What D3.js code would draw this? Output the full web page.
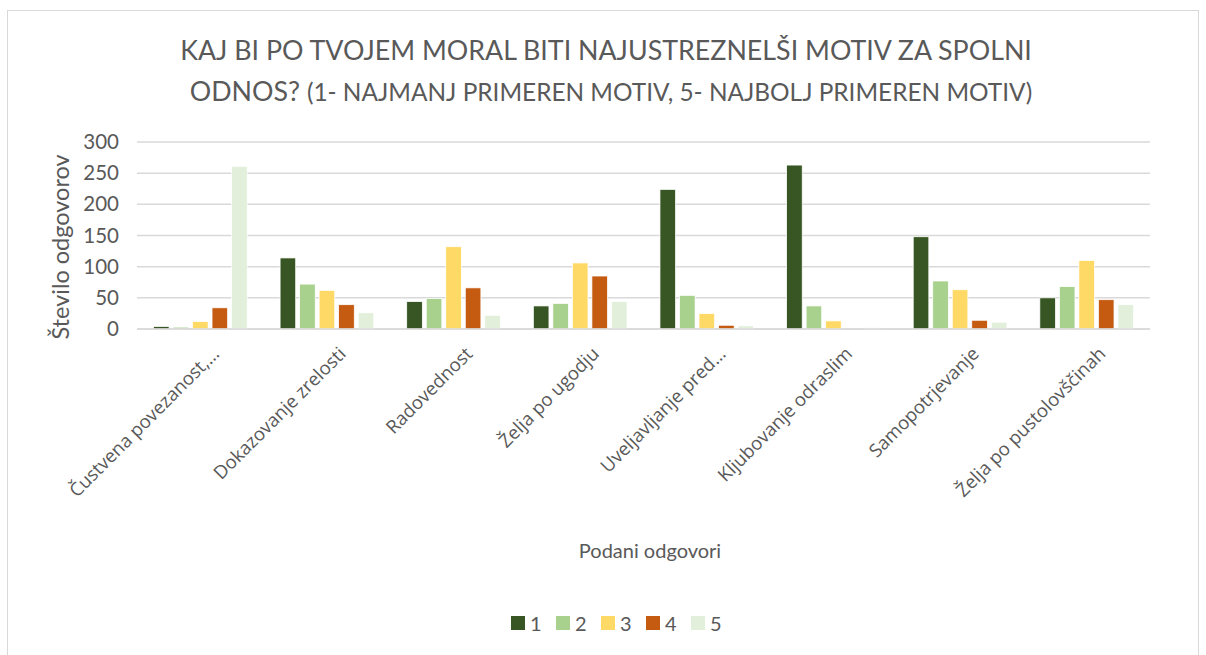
<!DOCTYPE html>
<html>
<head>
<meta charset="utf-8">
<script src="https://cdn.jsdelivr.net/npm/d3@7"></script>
<style>
  body { margin: 0; background: #fff; }
  svg text { fill: #595959; }
</style>
</head>
<body>
<div id="chart"></div>
<script>
// categories and series
const categories = [
  'Čustvena povezanost,…',
  'Dokazovanje zrelosti',
  'Radovednost',
  'Želja po ugodju',
  'Uveljavljanje pred…',
  'Kljubovanje odraslim',
  'Samopotrjevanje',
  'Želja po pustolovščinah'
];
const seriesNames = ['1', '2', '3', '4', '5'];
const values1 = [4, 114, 44, 37, 224, 263, 148, 50];
const values2 = [3, 72, 49, 41, 54, 37, 77, 68];
const values3 = [12, 62, 132, 106, 25, 13, 63, 110];
const values4 = [34, 39, 66, 85, 6, 0, 14, 47];
const values5 = [261, 26, 22, 44, 5, 2, 11, 39];
const yTicks = [0, 50, 100, 150, 200, 250, 300];
const colors = ['#375623', '#a9d18e', '#ffd966', '#c55a11', '#e2efda'];

const allSeries = [values1, values2, values3, values4, values5];

const width = 1206, height = 655;
const margin = { top: 142, right: 56, bottom: 326, left: 137 };

const svg = d3.select('#chart')
  .append('svg')
  .attr('width', width)
  .attr('height', height);

// chart frame
svg.append('rect')
  .attr('x', 7.5).attr('y', 10.5)
  .attr('width', 1191).attr('height', 660)
  .attr('fill', 'none')
  .attr('stroke', '#d9d9d9');

// scales
const x0 = d3.scaleBand()
  .domain(categories)
  .range([margin.left, width - margin.right])
  .paddingInner(0.26)
  .paddingOuter(0.13);

const x1 = d3.scaleBand()
  .domain(seriesNames)
  .range([0, x0.bandwidth()])
  .paddingInner(0.2);

const y = d3.scaleLinear()
  .domain([0, 300])
  .range([height - margin.bottom, margin.top]);

// gridlines
svg.append('g')
  .attr('class', 'grid')
  .selectAll('line')
  .data(yTicks)
  .enter()
  .append('line')
  .attr('x1', margin.left)
  .attr('x2', width - margin.right)
  .attr('y1', (d) => y(d))
  .attr('y2', (d) => y(d))
  .attr('stroke', '#d9d9d9')
  .attr('stroke-width', 1.5);

// y axis labels
const yAxis = svg.append('g')
  .attr('transform', `translate(${margin.left - 18},0)`)
  .call(d3.axisLeft(y).tickValues(yTicks).tickSize(0).tickPadding(0));
yAxis.select('.domain').remove();
yAxis.selectAll('text')
  .style('font-family', 'Lato, sans-serif')
  .style('font-size', '20.5px')
  .attr('fill', '#595959');

// bars
const groups = svg.append('g')
  .selectAll('g')
  .data(categories)
  .enter()
  .append('g')
  .attr('transform', (d) => `translate(${x0(d)},0)`);

groups.selectAll('rect')
  .data((d, i) => seriesNames.map((s, j) => ({ key: s, value: allSeries[j][i], color: colors[j] })))
  .enter()
  .append('rect')
  .attr('x', (d) => x1(d.key))
  .attr('y', (d) => y(d.value))
  .attr('width', x1.bandwidth())
  .attr('height', (d) => y(0) - y(d.value))
  .attr('fill', (d) => d.color)
  .attr('stroke', '#fff')
  .attr('stroke-width', 0.75);

// baseline
svg.append('line')
  .attr('x1', margin.left)
  .attr('x2', width - margin.right)
  .attr('y1', y(0))
  .attr('y2', y(0))
  .attr('stroke', '#d9d9d9')
  .attr('stroke-width', 1.5);

// x axis labels, rotated
svg.append('g')
  .selectAll('text')
  .data(categories)
  .enter()
  .append('text')
  .attr('transform', (d) => `translate(${x0(d) + x0.bandwidth() / 2 + 20},${y(0) + 26}) rotate(-45)`)
  .style('text-anchor', 'end')
  .style('font-family', '"Open Sans", sans-serif')
  .style('font-size', '18.5px')
  .attr('fill', '#595959')
  .text((d) => d);

// title
svg.append('text')
  .attr('x', 606)
  .attr('y', 60)
  .style('text-anchor', 'middle')
  .style('font-family', 'Lato, sans-serif')
  .style('font-size', '26.8px')
  .attr('fill', '#595959')
  .text('KAJ BI PO TVOJEM MORAL BITI NAJUSTREZNELŠI MOTIV ZA SPOLNI');

const title2 = svg.append('text')
  .attr('x', 611)
  .attr('y', 101)
  .style('text-anchor', 'middle')
  .style('font-family', 'Lato, sans-serif')
  .attr('fill', '#595959');
title2.append('tspan').style('font-size', '26.8px').text('ODNOS? ');
title2.append('tspan').style('font-size', '24.4px').text('(1- NAJMANJ PRIMEREN MOTIV, 5- NAJBOLJ PRIMEREN MOTIV)');

// y axis title
svg.append('text')
  .attr('transform', `translate(69,247) rotate(-90)`)
  .style('text-anchor', 'middle')
  .style('font-family', 'Lato, sans-serif')
  .style('font-size', '23.5px')
  .attr('fill', '#595959')
  .text('Število odgovorov');

// x axis title
svg.append('text')
  .attr('x', 650)
  .attr('y', 558)
  .style('text-anchor', 'middle')
  .style('font-family', 'Lato, sans-serif')
  .style('font-size', '20px')
  .attr('fill', '#595959')
  .text('Podani odgovori');

// legend
const legend = svg.append('g')
  .selectAll('g')
  .data(seriesNames)
  .enter()
  .append('g')
  .attr('transform', (d, i) => `translate(${511 + i * 45},616)`);

legend.append('rect')
  .attr('width', 14)
  .attr('height', 14)
  .attr('fill', (d, i) => colors[i]);

legend.append('text')
  .attr('x', 19)
  .attr('y', 14.5)
  .style('font-family', 'Lato, sans-serif')
  .style('font-size', '20px')
  .attr('fill', '#595959')
  .text((d) => d);
</script>
</body>
</html>
